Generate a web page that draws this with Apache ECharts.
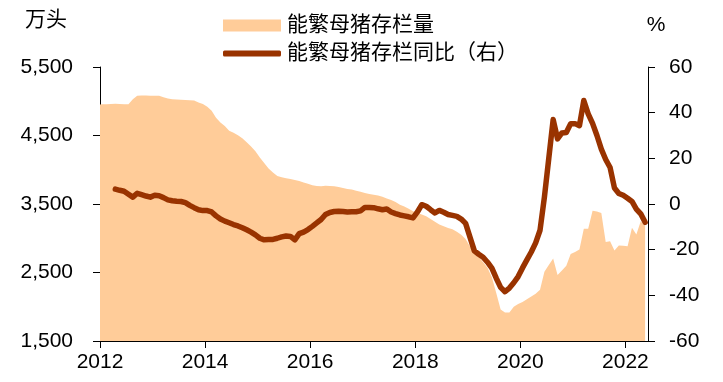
<!DOCTYPE html>
<html>
<head>
<meta charset="utf-8">
<script src="https://cdn.jsdelivr.net/npm/echarts@6/dist/echarts.min.js"></script>
<style>
html,body{margin:0;padding:0;background:#fff;}
#c{width:723px;height:382px;}
</style>
</head>
<body>
<div id="c"></div>
<script>
// Monthly data, first month 2011-12, last month 2022-05
var startYear = 2011, startMonth = 12;
var sowStock = [ // 能繁母猪存栏量, 万头
  4950,4955,4958,4960,4962,4960,4958,4958,5030,5080,5085,5085,5082,
  5080,5080,5060,5040,5028,5025,5022,5020,5015,5010,4980,4960,
  4920,4860,4760,4690,4640,4570,4540,4505,4460,4400,4340,4270,
  4180,4100,4020,3960,3910,3890,3875,3865,3850,3835,3815,3795,
  3775,3762,3760,3765,3762,3760,3750,3735,3720,3710,3695,3680,
  3660,3645,3635,3625,3605,3580,3560,3530,3490,3465,3430,3395,
  3370,3345,3320,3280,3240,3200,3175,3150,3130,3095,3050,2990,
  2880,2800,2730,2650,2570,2430,2200,1960,1915,1915,2000,2040,
  2070,2110,2150,2190,2250,2510,2610,2705,2465,2530,2600,2770,
  2800,2835,3140,3140,3400,3390,3370,2945,2955,2820,2895,2890,
  2885,3155,3056,3250,3178
];
var sowYoY = [ // 能繁母猪存栏同比, %
  null,null,null,null,
  6.5,6.0,5.6,4.3,3.0,4.7,4.1,3.5,3.0,
  3.8,3.6,2.8,1.8,1.4,1.2,1.1,0.6,-0.6,-1.6,-2.5,-2.9,
  -2.9,-3.5,-5.2,-6.6,-7.5,-8.2,-9.0,-9.6,-10.4,-11.3,-12.3,-13.5,
  -15.0,-15.7,-15.6,-15.5,-15.0,-14.4,-14.0,-14.2,-15.7,-13.0,-12.3,-11.2,
  -9.8,-8.3,-6.8,-4.6,-3.7,-3.3,-3.2,-3.3,-3.5,-3.4,-3.4,-3.0,
  -1.5,-1.5,-1.6,-2.1,-2.5,-2.2,-3.5,-4.2,-4.8,-5.2,-5.6,-6.1,
  -3.5,-0.3,-1.0,-2.5,-3.9,-2.8,-3.6,-4.6,-5.0,-5.4,-6.6,-8.5,
  -14.5,-20.5,-22.0,-23.3,-25.5,-28.1,-32.5,-36.5,-38.4,-36.8,-34.5,-31.8,
  -28.0,-24.5,-21.0,-17.0,-11.5,3.0,20.0,37.0,28.5,31.1,31.3,35.2,
  35.2,34.3,45.3,39.5,35.3,30.0,24.0,19.5,16.0,7.0,4.6,3.8,
  2.5,1.1,-2.2,-4.3,-8.0
];
var yearTicks = [2012, 2014, 2016, 2018, 2020, 2022];
var leftTicks = [1500, 2500, 3500, 4500, 5500];
var rightTicks = [-60, -40, -20, 0, 20, 40, 60];
var names = ['能繁母猪存栏量', '能繁母猪存栏同比（右）'];
var units = ['万头', '%'];

// month labels and their positions (mid-month) on a year scale
var months = [];
for (var i = 0; i < sowStock.length; i++) {
  var mi = startMonth - 1 + i;
  var y = startYear + Math.floor(mi / 12), m = mi % 12 + 1;
  months.push({label: y + '-' + (m < 10 ? '0' : '') + m, pos: y + (m - 0.5) / 12});
}
var areaData = months.map(function (d, i) { return [d.pos, sowStock[i]]; });
var lineData = months.map(function (d, i) { return [d.pos, sowYoY[i]]; });

var FONT = "'Liberation Sans', 'Noto Sans CJK SC', sans-serif";
var chart = echarts.init(document.getElementById('c'), null, {renderer: 'canvas'});
chart.setOption({
  animation: false,
  backgroundColor: '#fff',
  textStyle: {fontFamily: FONT},
  grid: {left: 100, right: 75, top: 67, bottom: 41, containLabel: false},
  legend: [{
    data: [{name: names[0], icon: 'rect'}],
    left: 218, top: 10, itemWidth: 58, itemHeight: 12, itemGap: 0,
    textStyle: {fontSize: 21, color: '#000', fontFamily: FONT, padding: [0, 0, 0, 1]}
  }, {
    data: [{name: names[1], icon: 'roundRect'}],
    left: 218, top: 38, itemWidth: 58, itemHeight: 6, itemGap: 0,
    textStyle: {fontSize: 21, color: '#000', fontFamily: FONT, padding: [0, 0, 0, 1]}
  }],
  xAxis: {
    type: 'value', min: yearTicks[0], max: 2022.43, interval: 2,
    axisLine: {show: true, onZero: false, lineStyle: {color: '#000', width: 1}},
    axisTick: {show: true, length: 7, inside: false, lineStyle: {color: '#000'}, customValues: yearTicks},
    axisLabel: {fontSize: 21, color: '#000', margin: 11, fontFamily: FONT, customValues: yearTicks,
      formatter: function (v) { return String(Math.round(v)); }},
    splitLine: {show: false}
  },
  yAxis: [{
    type: 'value', min: leftTicks[0], max: leftTicks[leftTicks.length - 1], interval: 1000,
    name: units[0], nameLocation: 'end', nameGap: 47,
    nameTextStyle: {fontSize: 21, color: '#000', align: 'center', verticalAlign: 'middle', padding: [0, 108, 0, 0], fontFamily: FONT},
    axisLine: {show: true, onZero: false, lineStyle: {color: '#000', width: 1}},
    axisTick: {show: true, length: 7, lineStyle: {color: '#000'}},
    axisLabel: {fontSize: 21, color: '#000', margin: 27, fontFamily: FONT,
      formatter: function (v) { return v.toLocaleString('en-US'); }},
    splitLine: {show: false}
  }, {
    type: 'value', min: rightTicks[0], max: rightTicks[rightTicks.length - 1], interval: 20,
    position: 'right',
    name: units[1], nameLocation: 'end', nameGap: 42,
    nameTextStyle: {fontSize: 21, color: '#000', align: 'center', verticalAlign: 'middle', padding: [0, 0, 0, 16], fontFamily: FONT},
    axisLine: {show: true, onZero: false, lineStyle: {color: '#000', width: 1}},
    axisTick: {show: true, length: 7, lineStyle: {color: '#000'}},
    axisLabel: {fontSize: 21, color: '#000', margin: 21, fontFamily: FONT},
    splitLine: {show: false}
  }],
  series: [{
    name: names[0], type: 'line', yAxisIndex: 0, data: areaData,
    symbol: 'none', smooth: false,
    lineStyle: {width: 0, color: '#FFCC99'},
    itemStyle: {color: '#FFCC99'},
    areaStyle: {color: '#FFCC99', opacity: 1, origin: 'start'},
    z: 1
  }, {
    name: names[1], type: 'line', yAxisIndex: 1, data: lineData,
    symbol: 'none', smooth: false, connectNulls: false,
    lineStyle: {width: 5.5, color: '#993300', cap: 'round', join: 'round'},
    itemStyle: {color: '#993300'},
    z: 3
  }]
});
</script>
</body>
</html>
